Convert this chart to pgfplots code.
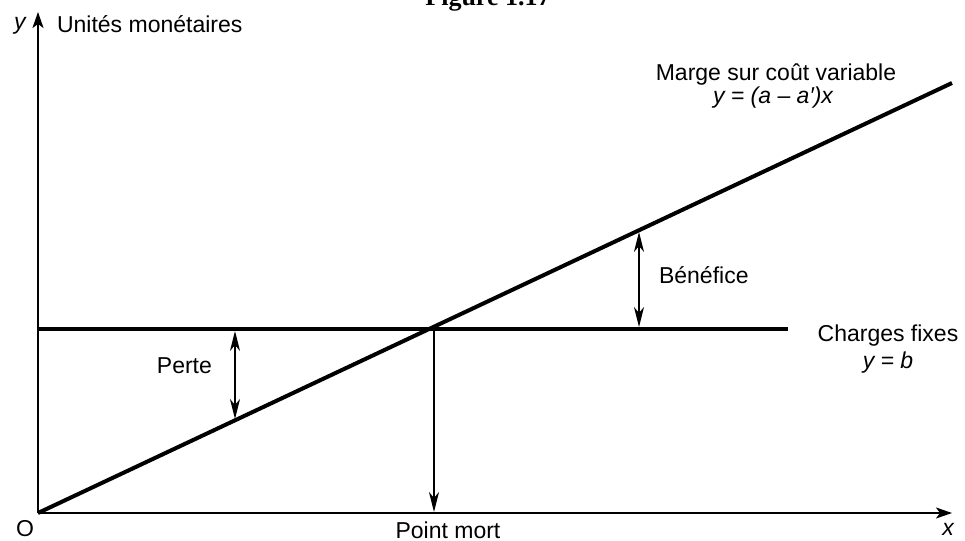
\documentclass[border=0pt]{standalone}
\usepackage{fontspec}
\setmainfont{Liberation Sans}
\newfontfamily\titlefont{Liberation Serif}
\usepackage{pgfplots}
\pgfplotsset{compat=1.18}
\usetikzlibrary{arrows.meta}

\tikzset{
  hd/.style={line width=0.8pt},
  tip/.tip={Stealth[length=10pt,width=5pt,inset=3pt]},
}

\begin{document}
\begin{tikzpicture}
\begin{axis}[
  scale only axis,
  width=457pt, height=250.5pt,
  xmin=0, xmax=914, ymin=0, ymax=501,
  axis lines=left,
  axis line style={line width=1pt, -{Stealth[length=8pt,width=5.5pt,inset=2pt]}},
  xtick=\empty, ytick=\empty,
  clip=false,
  every node/.append style={inner sep=0.5pt},
  font=\fontsize{11.5}{13}\selectfont,
]
% marge sur cout variable
\addplot[black, line width=2pt] coordinates {(0,0) (914,430)};
% charges fixes
\addplot[black, line width=1.8pt] coordinates {(0,184) (750,184)};
% point mort
\addplot[black, hd, -tip] coordinates {(396,184) (396,1)};
% perte
\addplot[black, hd, tip-tip] coordinates {(197,182) (197,94)};
% benefice
\addplot[black, hd, tip-tip] coordinates {(601,186) (601,281)};

\node[anchor=east] at (axis cs:181,147) {Perte};
\node[anchor=west] at (axis cs:614,238) {Bénéfice};
\node at (axis cs:850,177) {Charges fixes};
\node at (axis cs:850,150) {\itshape y = b};
\node at (axis cs:738,438) {Marge sur coût variable};
\node at (axis cs:735,415) {\itshape y = (a – a′)x};
\node at (axis cs:410,-17) {Point mort};
\node at (axis cs:-13,-16) {O};
\node at (axis cs:910,-16) {\itshape x};
\node at (axis cs:-18,487) {\itshape y};
\node[anchor=west] at (axis cs:12,489) {Unités monétaires};
\node[anchor=base] at (axis cs:450,507) {\titlefont\bfseries\fontsize{13}{15}\selectfont Figure 1.17};

\coordinate (bl) at (axis cs:-38,-28);
\coordinate (tr) at (axis cs:927,513);
\end{axis}
\pgfresetboundingbox
\useasboundingbox (bl) rectangle (tr);
\end{tikzpicture}
\end{document}
